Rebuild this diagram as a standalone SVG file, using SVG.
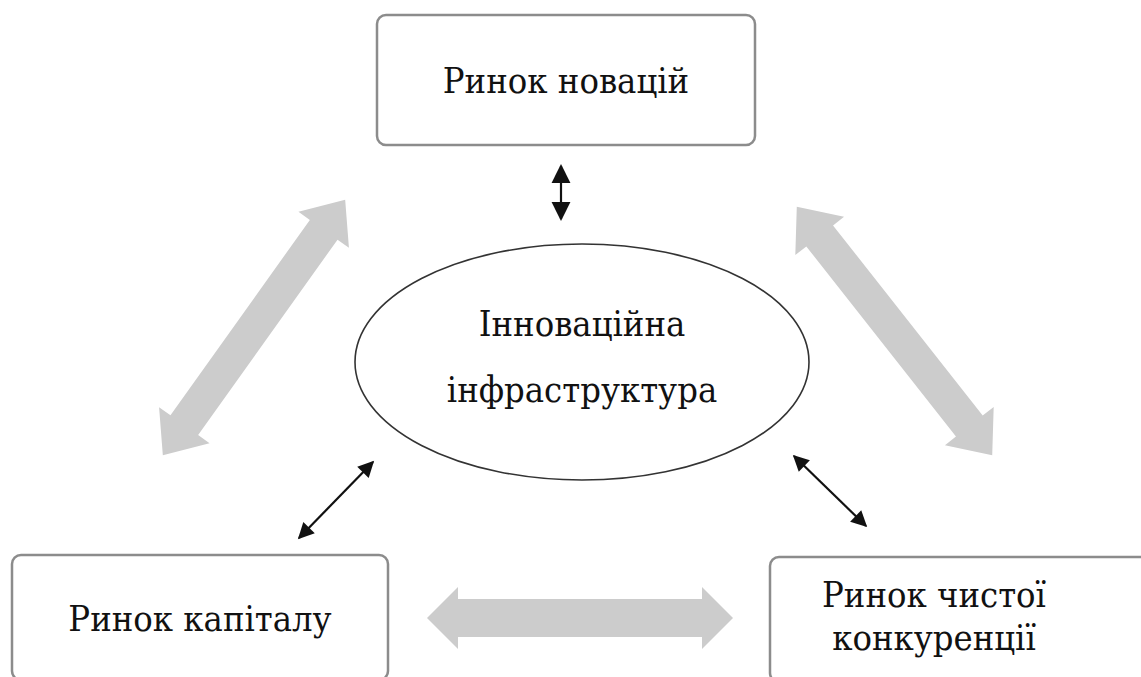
<svg xmlns="http://www.w3.org/2000/svg" width="1141" height="677" viewBox="0 0 1141 677">
  <style>
    .box { fill: #ffffff; stroke: #8c8c8c; stroke-width: 2.5; }
    .ell { fill: #ffffff; stroke: #333333; stroke-width: 1.6; }
    .lbl { font-family: "DejaVu Serif Condensed", "DejaVu Serif", serif; font-stretch: condensed; font-size: 36px; fill: #111111; text-anchor: middle; }
    .big { fill: #cccccc; }
    .thin { stroke: #111111; stroke-width: 2.2; fill: none; }
  </style>
  <defs>
    <marker id="ah" viewBox="0 0 10 10" refX="9" refY="5" markerWidth="18" markerHeight="16" markerUnits="userSpaceOnUse" orient="auto-start-reverse">
      <path d="M0,0 L10,5 L0,10 z" fill="#111111"/>
    </marker>
    <marker id="ahBig" viewBox="0 0 10 10" refX="9" refY="5" markerWidth="19" markerHeight="21" markerUnits="userSpaceOnUse" orient="auto-start-reverse">
      <path d="M0,0 L10,5 L0,10 z" fill="#111111"/>
    </marker>
  </defs>

  <rect width="1141" height="677" fill="#ffffff"/>

  <g id="connectors">
    <polygon class="big" transform="translate(254,327.5) rotate(-54.5)" points="-157,0 -120,-31 -120,-17 120,-17 120,-31 157,0 120,31 120,17 -120,17 -120,31"/>
    <polygon class="big" transform="translate(894.5,331) rotate(51.8)" points="-158,0 -121,-31 -121,-17 121,-17 121,-31 158,0 121,31 121,17 -121,17 -121,31"/>
    <polygon class="big" transform="translate(580,618)" points="-153,0 -122,-31 -122,-19 122,-19 122,-31 153,0 122,31 122,19 -122,19 -122,31"/>
    <line class="thin" x1="561" y1="166" x2="561" y2="219" marker-start="url(#ahBig)" marker-end="url(#ahBig)"/>
    <line class="thin" x1="373" y1="462" x2="299" y2="538" marker-start="url(#ah)" marker-end="url(#ah)"/>
    <line class="thin" x1="794" y1="456" x2="866" y2="526" marker-start="url(#ah)" marker-end="url(#ah)"/>
  </g>

  <g id="node-novations">
    <rect class="box" x="377" y="15" width="378" height="130" rx="9"/>
    <text class="lbl" x="566" y="93">Ринок новацій</text>
  </g>

  <g id="node-infrastructure">
    <ellipse class="ell" cx="582" cy="362" rx="227" ry="118"/>
    <text class="lbl" x="582" y="336">Інноваційна</text>
    <text class="lbl" x="582" y="402">інфраструктура</text>
  </g>

  <g id="node-capital">
    <rect class="box" x="12" y="555" width="376" height="125" rx="9"/>
    <text class="lbl" x="200" y="631">Ринок капіталу</text>
  </g>

  <g id="node-competition">
    <rect class="box" x="770" y="557" width="380" height="125" rx="9"/>
    <text class="lbl" x="934" y="607">Ринок чистої</text>
    <text class="lbl" x="934" y="650">конкуренції</text>
  </g>
</svg>
